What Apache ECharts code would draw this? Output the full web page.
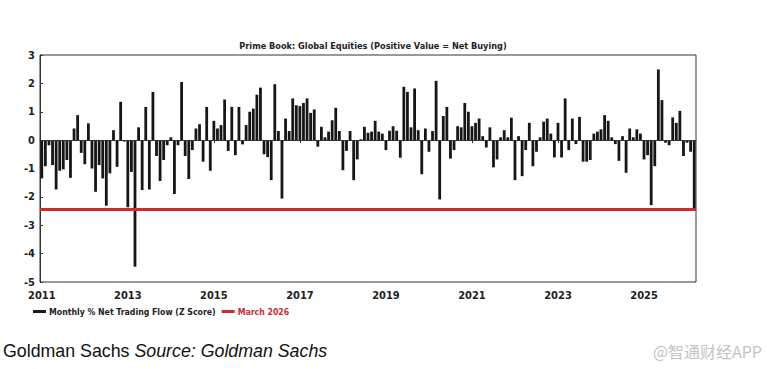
<!DOCTYPE html>
<html>
<head>
<meta charset="utf-8">
<script src="https://cdn.jsdelivr.net/npm/echarts@6/dist/echarts.min.js"></script>
<style>
html,body{margin:0;padding:0;background:#fff;}
#chart{width:767px;height:369px;}
</style>
</head>
<body>
<div id="chart"></div>
<script>
// ---- data ----
var startYear = 2011;
var monthCount = 183; // Jan 2011 .. Mar 2026
var labelYears = ['2011','2013','2015','2017','2019','2021','2023','2025'];
var yTicks = [-5,-4,-3,-2,-1,0,1,2,3];

var v2011 = [-1.35,-0.92,-0.18,-0.88,-1.74,-1.08,-1.03,-0.70,-1.33,0.41,0.88,-0.45];
var v2012 = [-0.85,0.59,-1.00,-1.82,-0.88,-1.35,-2.31,-1.17,0.35,-0.94,1.35,-0.05];
var v2013 = [-2.37,-1.12,-4.46,0.45,-1.76,1.17,-1.74,1.70,-0.56,-1.44,-0.70,-0.18];
var v2014 = [0.10,-1.90,-0.18,2.05,-0.56,-1.37,-0.35,0.41,0.56,-0.76,1.17,-1.08];
var v2015 = [0.68,0.41,0.53,1.43,-0.38,1.17,-0.53,1.17,-0.15,0.53,1.00,1.11];
var v2016 = [1.60,1.85,-0.50,-0.60,-1.41,1.97,0.32,-2.06,0.76,0.32,1.47,1.23];
var v2017 = [1.20,1.31,1.47,0.96,1.08,-0.23,0.47,0.10,0.30,0.70,1.14,0.32];
var v2018 = [-1.06,-0.38,0.32,-1.41,-0.68,0.03,0.47,0.26,0.30,0.68,0.30,0.23];
var v2019 = [-0.35,0.33,0.49,0.33,-0.62,1.88,1.70,0.45,1.82,0.35,-1.20,0.41];
var v2020 = [-0.41,0.32,2.09,-2.09,0.85,1.17,-0.65,-0.35,0.49,0.45,1.31,1.00];
var v2021 = [0.49,0.61,0.76,0.14,-0.26,0.45,-0.96,-0.68,0.10,0.35,0.10,0.79];
var v2022 = [-1.41,0.14,-1.27,-0.35,0.61,-0.92,-0.41,0.10,0.65,0.76,0.23,-0.61];
var v2023 = [0.61,-0.61,1.47,-0.35,0.76,-0.14,0.82,-0.76,-0.76,-0.70,0.23,0.30];
var v2024 = [0.38,0.88,0.68,0.10,-0.14,-0.73,0.14,-1.15,0.41,0.10,0.38,0.23];
var v2025 = [-0.68,-0.53,-2.29,-0.92,2.49,1.41,-0.09,-0.18,0.80,0.61,1.03,-0.56];
var v2026 = [-0.09,-0.41,-2.45];
var march2026 = -2.45;

var seriesName1 = 'Monthly % Net Trading Flow (Z Score)';
var seriesName2 = 'March 2026';
var titleText = 'Prime Book: Global Equities (Positive Value = Net Buying)';

// ---- build ----
var values = [].concat(v2011,v2012,v2013,v2014,v2015,v2016,v2017,v2018,v2019,v2020,v2021,v2022,v2023,v2024,v2025,v2026);
var categories = [];
for (var i = 0; i < monthCount; i++) {
  var y = startYear + Math.floor(i / 12);
  var m = (i % 12) + 1;
  categories.push(y + '-' + (m < 10 ? '0' + m : m));
}
function isLabel(idx) {
  var c = categories[idx];
  return c && c.slice(5) === '01' && labelYears.indexOf(c.slice(0,4)) >= 0;
}

var FONT = '"Liberation Sans Narrow", "DejaVu Sans Condensed", "Roboto Condensed", Arial, sans-serif';
var chart = echarts.init(document.getElementById('chart'), null, {renderer: 'svg'});
chart.setOption({
  animation: false,
  backgroundColor: '#fff',
  title: {
    text: titleText,
    left: 368, textAlign: 'center', top: 36,
    textStyle: {fontFamily: FONT, fontSize: 9.1, fontWeight: 'bold', color: '#222'}
  },
  legend: {
    left: 28, top: 302,
    itemWidth: 13, itemHeight: 3, itemGap: 6,
    icon: 'rect',
    textStyle: {fontFamily: FONT, fontSize: 8.7, fontWeight: 'bold', color: '#222', padding: [0,0,0,-2]},
    data: [
      {name: seriesName1, itemStyle: {color: '#1b1b1b'}},
      {name: seriesName2, itemStyle: {color: '#cf2a33'}, textStyle: {color: '#cf2a33'}}
    ]
  },
  grid: {left: 40, right: 71, top: 55, bottom: 87, show: true, borderColor: '#333', borderWidth: 1, backgroundColor: 'transparent'},
  xAxis: {
    type: 'category',
    data: categories,
    boundaryGap: true,
    axisLine: {show: true, lineStyle: {color: '#333'}},
    axisTick: {show: true, interval: function(idx){return isLabel(idx);}, alignWithLabel: true, length: 3, lineStyle: {color: '#333'}},
    axisLabel: {
      interval: function(idx){return isLabel(idx);},
      formatter: function(v){return v.slice(0,4);},
      fontFamily: FONT, fontSize: 11, fontWeight: 'bold', color: '#222', margin: 8
    },
    splitLine: {show: false}
  },
  yAxis: {
    type: 'value',
    min: yTicks[0], max: yTicks[yTicks.length-1], interval: 1,
    axisLine: {show: true, lineStyle: {color: '#333'}},
    axisTick: {show: true, inside: true, length: 3, lineStyle: {color: '#333'}},
    axisLabel: {fontFamily: FONT, fontSize: 11, fontWeight: 'bold', color: '#222', margin: 5},
    splitLine: {show: false}
  },
  series: [
    {
      name: seriesName1,
      type: 'bar',
      data: values,
      barWidth: '78%',
      itemStyle: {color: '#161616'},
      markLine: {
        silent: true, symbol: 'none', label: {show: false},
        lineStyle: {color: '#333', width: 1, type: 'solid'},
        data: [{yAxis: 0}]
      }
    },
    {
      name: seriesName2,
      type: 'line',
      data: [],
      itemStyle: {color: '#cf2a33'},
      markLine: {
        silent: true, symbol: 'none', label: {show: false},
        lineStyle: {color: '#cf2a33', width: 3, type: 'solid'},
        data: [{yAxis: march2026}]
      }
    }
  ],
  graphic: [
    {
      type: 'text', left: 3, top: 342,
      style: {
        text: '{a|Goldman Sachs }{b|Source: Goldman Sachs}',
        rich: {
          a: {fontFamily: '"Liberation Sans", Arial, sans-serif', fontSize: 17.8, fill: '#111', color: '#111'},
          b: {fontFamily: '"Liberation Sans", Arial, sans-serif', fontSize: 17.8, fontStyle: 'italic', fill: '#111', color: '#111'}
        }
      }
    },
    {
      type: 'text', right: 5, top: 343,
      style: {
        text: '@智通财经APP',
        fontFamily: '"Noto Sans CJK SC", sans-serif', fontSize: 16, fill: '#c4c4c4'
      }
    }
  ]
});
</script>
</body>
</html>
